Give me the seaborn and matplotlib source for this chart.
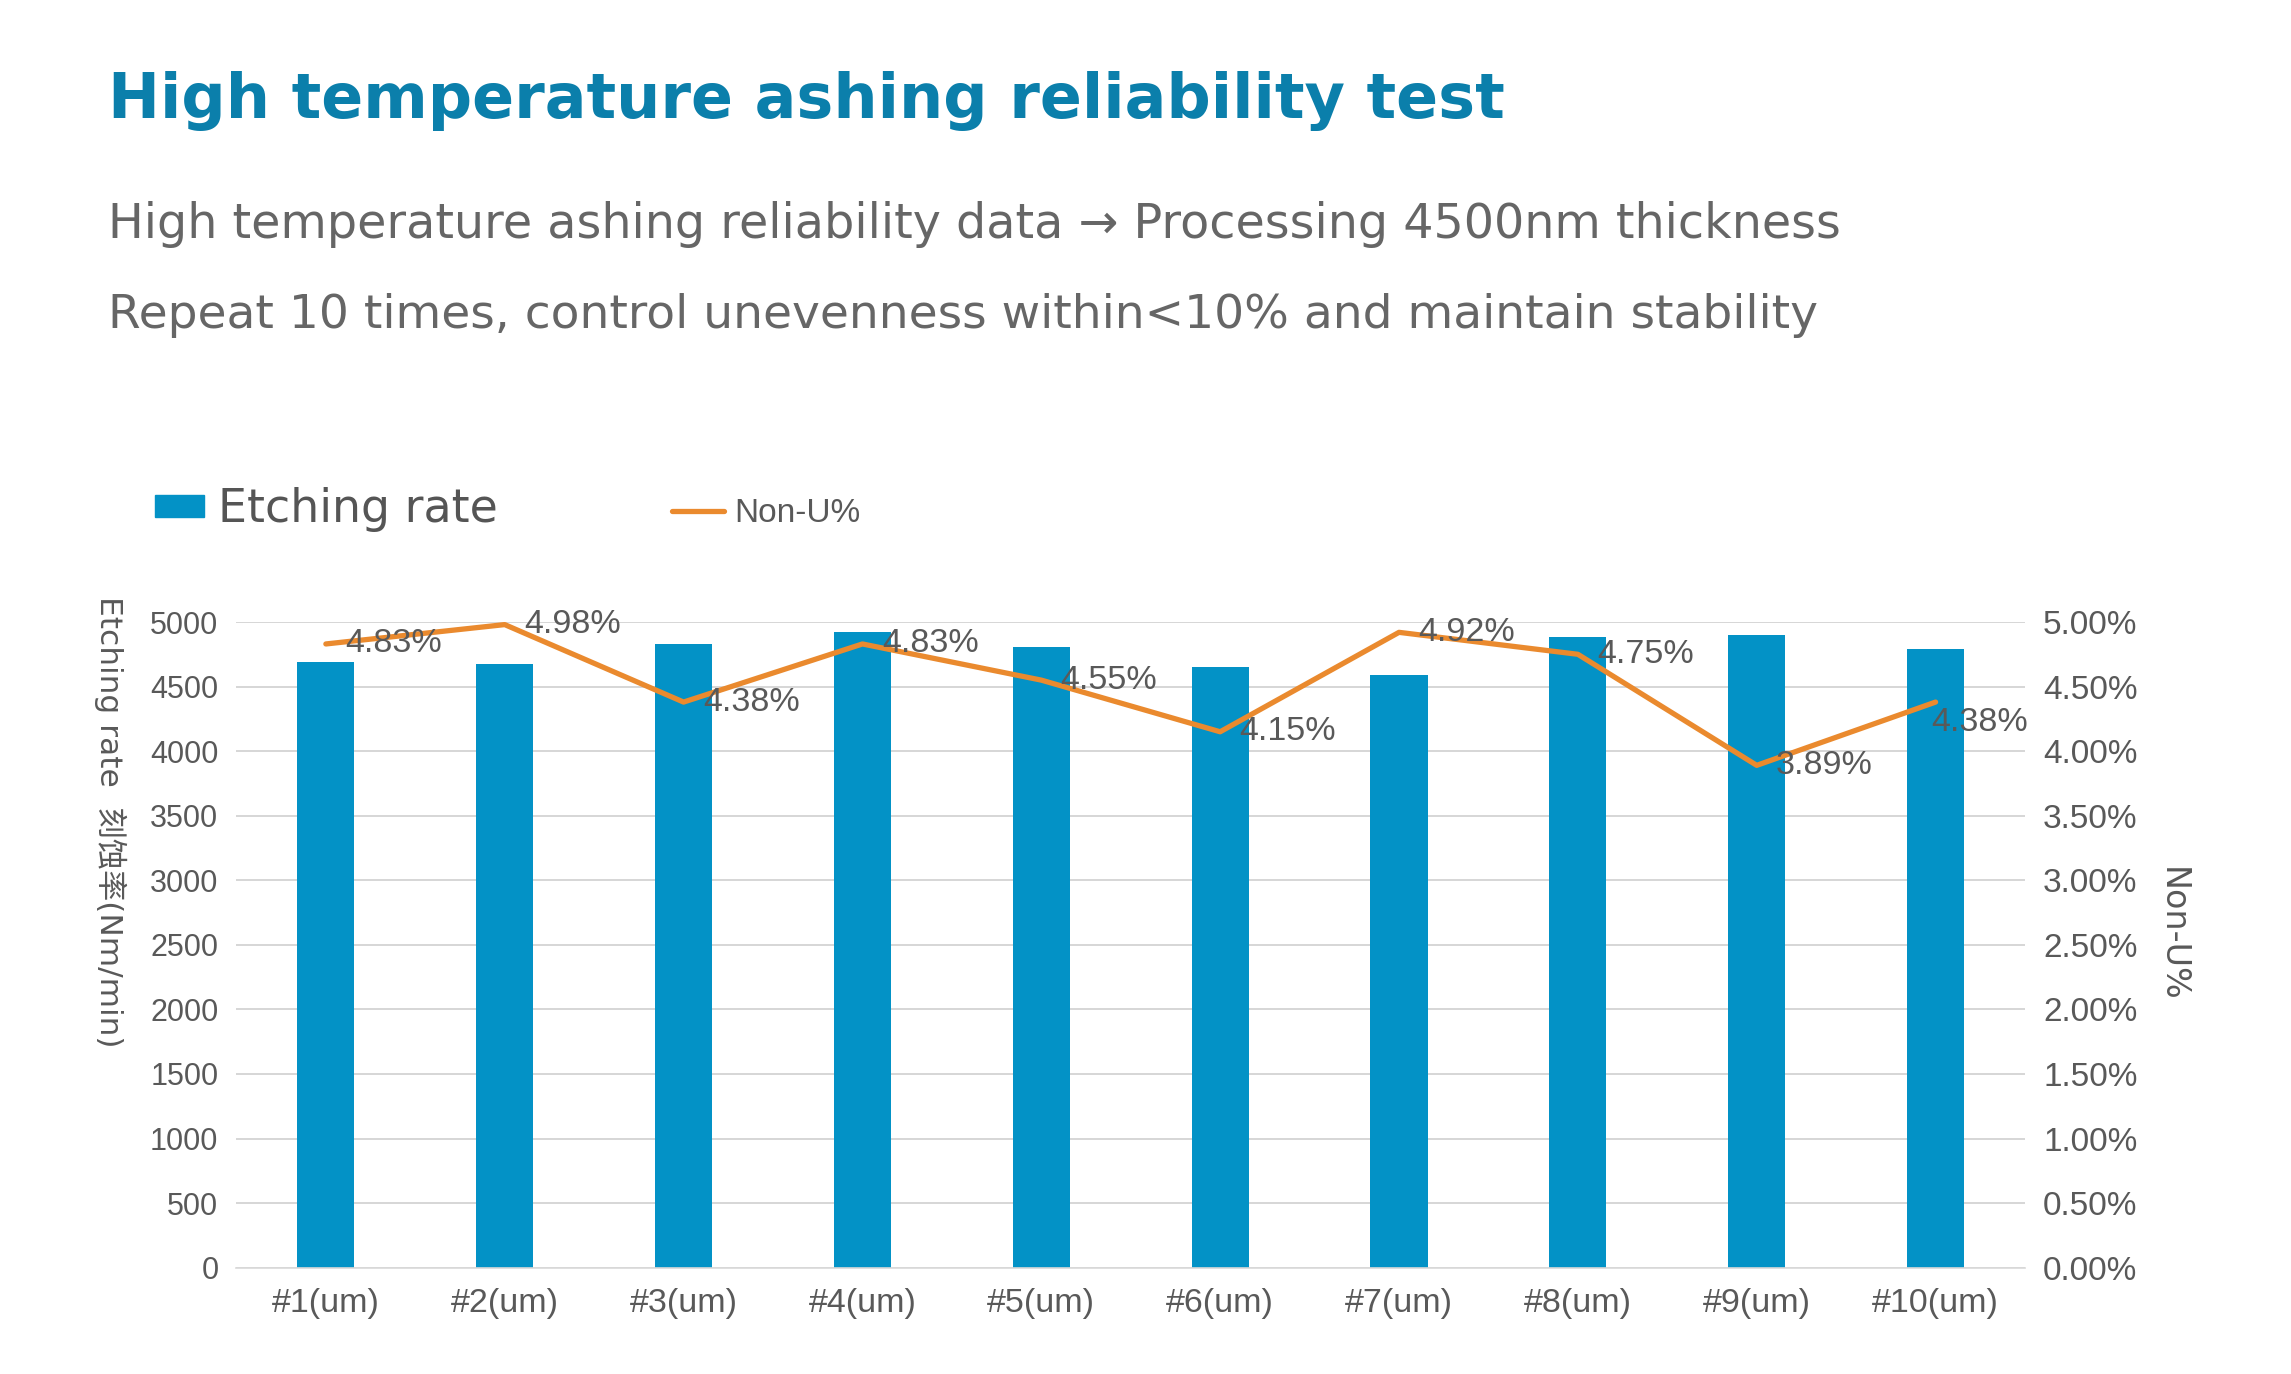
import numpy as np
import pandas as pd
import matplotlib
matplotlib.use("Agg")
import matplotlib.pyplot as plt
import seaborn as sns
from matplotlib.patches import Patch
from matplotlib.lines import Line2D
from matplotlib.ticker import FuncFormatter

# data
samples = ["#1(um)", "#2(um)", "#3(um)", "#4(um)", "#5(um)",
           "#6(um)", "#7(um)", "#8(um)", "#9(um)", "#10(um)"]
etch_rate = [4689, 4678, 4830, 4924, 4809, 4654, 4586, 4885, 4903, 4788]
non_u = [4.83, 4.98, 4.38, 4.83, 4.55, 4.15, 4.92, 4.75, 3.89, 4.38]

title = "High temperature ashing reliability test"
sub1 = "High temperature ashing reliability data \u2192 Processing 4500nm thickness"
sub2 = "Repeat 10 times, control unevenness within<10% and maintain stability"

BLUE = "#0392c6"
ORANGE = "#ea8a2e"
GREY = "#595959"
TITLE_BLUE = "#0b7fab"

sns.set_theme(style="white")
plt.rcParams['font.family'] = ['DejaVu Sans', 'Noto Sans CJK SC']

df = pd.DataFrame({"sample": samples, "rate": etch_rate, "nonu": non_u})

fig = plt.figure(figsize=(22.91, 13.74), dpi=100)
ax = fig.add_axes([0.1032, 0.0774, 0.7807, 0.4699])

sns.barplot(data=df, x="sample", y="rate", color=BLUE, width=0.32,
            saturation=1, linewidth=0, errorbar=None, ax=ax)
ax.set_xlim(-0.5, 9.5)
ax.set_ylim(0, 5000)
ax.set_yticks(range(0, 5001, 500))
ax.set_xlabel("")
ax.set_ylabel("")
ax.grid(axis='y', color='#d0d0d0', lw=1.2)
ax.set_axisbelow(True)
for s in ["top", "left", "right"]:
    ax.spines[s].set_visible(False)
ax.spines["bottom"].set_color("#d9d9d9")
ax.spines["bottom"].set_linewidth(1.2)
ax.tick_params(axis='both', length=0, colors=GREY,
               labelfontfamily='Liberation Sans')
ax.tick_params(axis='y', pad=13, labelsize=22)
ax.tick_params(axis='x', pad=15, labelsize=24.5)

# line on the secondary axis
ax2 = ax.twinx()
sns.lineplot(x=df.index, y=df["nonu"], color=ORANGE, lw=3.8, ax=ax2)
ax2.set_xlim(-0.5, 9.5)
ax2.set_ylim(0, 5)
ax2.set_yticks(np.arange(0, 5.01, 0.5))
ax2.yaxis.set_major_formatter(FuncFormatter(lambda v, p: f"{v:.2f}%"))
ax2.set_ylabel("")
ax2.grid(False)
for s in ax2.spines.values():
    s.set_visible(False)
ax2.tick_params(axis='y', length=0, labelsize=24, colors=GREY, pad=13,
                labelfontfamily='Liberation Sans')

for i, v in enumerate(non_u):
    off = (14, 0) if i < len(non_u) - 1 else (-3, -15)
    ax2.annotate(f"{v:.2f}%", xy=(i, v), xytext=off, textcoords='offset points',
                 ha='left', va='center', fontsize=24.5, color=GREY,
                 family='Liberation Sans')

# texts on top, fitted to the widths seen in the reference
def fit_text(x, y, s, width_frac, **kw):
    t = fig.text(x, y, s, **kw)
    r = fig.canvas.get_renderer()
    w = t.get_window_extent(r).width
    t.set_fontsize(t.get_fontsize() * width_frac * fig.bbox.width / w)
    return t

fit_text(0.0471, 0.914, title, 0.609, fontsize=48, fontweight='bold',
         color=TITLE_BLUE, va='baseline')
fit_text(0.0471, 0.827, sub1, 0.756, fontsize=32, color="#666666", va='baseline')
fit_text(0.0471, 0.761, sub2, 0.7465, fontsize=32, color="#666666", va='baseline')

# legends
leg1 = fig.legend(handles=[Patch(color=BLUE)], labels=["Etching rate"],
                  loc='center left', bbox_to_anchor=(0.0677, 0.629),
                  frameon=False, fontsize=33, handlelength=1.07, handleheight=0.35,
                  handletextpad=0.3, borderpad=0, borderaxespad=0, labelcolor="#555555")
leg2 = fig.legend(handles=[Line2D([], [], color=ORANGE, lw=3.8)], labels=["Non-U%"],
                  loc='center left', bbox_to_anchor=(0.2935, 0.626),
                  frameon=False, prop={'family': 'Liberation Sans', 'size': 24},
                  handlelength=1.55, handletextpad=0.3, borderpad=0, borderaxespad=0,
                  labelcolor=GREY)

# axis titles
fig.text(0.048, 0.402, "Etching rate  刻蚀率(Nm/min)", rotation=270, ha='center',
         va='center', fontsize=22.5, color=GREY,
         family=['DejaVu Sans', 'Noto Sans CJK SC'])
fig.text(0.948, 0.320, "Non-U%", rotation=270, ha='center', va='center',
         fontsize=24, color=GREY)

fig.savefig("out.png", dpi=100)
